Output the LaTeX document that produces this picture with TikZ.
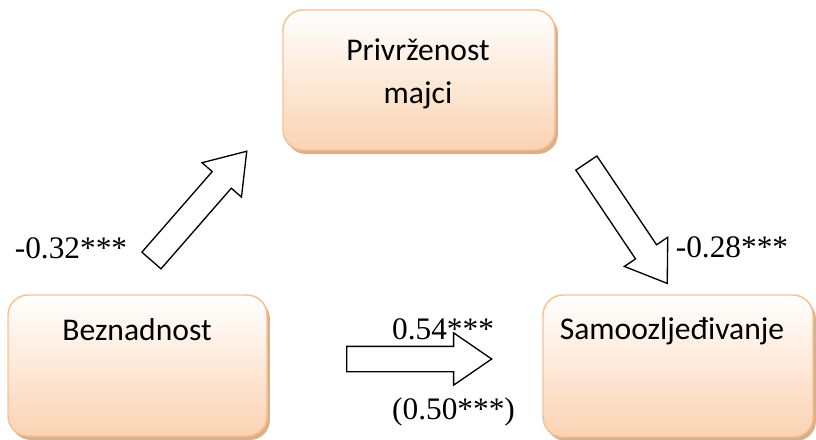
\documentclass[tikz,border=0pt]{standalone}
\usepackage{fontspec}
\setmainfont{Liberation Serif}
\newfontfamily\boxfont{Carlito}
\usetikzlibrary{shapes.arrows,shadows}
\definecolor{boxline}{RGB}{250,192,143}
\definecolor{boxfill}{RGB}{251,211,178}
\definecolor{boxshadow}{RGB}{212,168,128}
\tikzset{
  var/.style={rectangle, rounded corners=15pt, draw=boxline, line width=1.1pt,
    top color=white, bottom color=boxfill,
    drop shadow={shadow xshift=2.2pt, shadow yshift=-3pt, fill=boxshadow, opacity=0.9}},
  vartext/.style={font=\boxfont\fontsize{23.7}{32.25}\selectfont, inner sep=0pt, align=center},
  effect/.style={single arrow, draw, fill=white, line width=1pt, anchor=tail,
    inner xsep=0pt, inner ysep=9pt, minimum height=108.75pt,
    single arrow head extend=10.1pt, single arrow tip angle=69},
  coef/.style={font=\fontsize{23.5}{28}\selectfont, anchor=base, inner sep=0pt}
}
\begin{document}
\begin{tikzpicture}[x=0.75pt,y=-0.75pt]
  \useasboundingbox (0,0) rectangle (816,439);
  \node (priv) [var, minimum width=204pt, minimum height=105pt] at (419,80) {};
  \node (bez) [var, minimum width=194.25pt, minimum height=105.75pt] at (137.5,365.5) {};
  \node (samo) [var, minimum width=202.5pt, minimum height=106.5pt] at (678,366) {};
  \node (privtext) [vartext] at (418,74) {Privrženost\\majci};
  \node (beztext) [vartext, anchor=base] at (137,340) {Beznadnost};
  \node (samotext) [vartext, anchor=base] at (672,339) {Samoozljeđivanje};
  \node (a) [effect, rotate=48.9] at (151,261) {};
  \node (b) [effect, rotate=-56.1] at (586,162.5) {};
  \node (c) [effect] at (346,359) {};
  \node (ca) [coef] at (71,258) {-0.32***};
  \node (cb) [coef] at (732,257) {-0.28***};
  \node (cc) [coef] at (443,339) {0.54***};
  \node (cc2) [coef] at (453.5,419) {(0.50***)};
\end{tikzpicture}
\end{document}
